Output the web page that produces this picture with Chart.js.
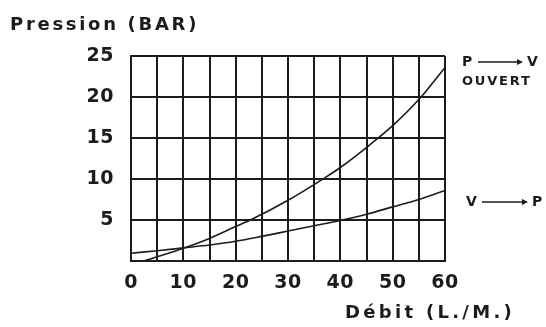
<!DOCTYPE html>
<html>
<head>
<meta charset="utf-8">
<script src="https://cdn.jsdelivr.net/npm/chart.js@4/dist/chart.umd.min.js"></script>
<style>
  html, body { margin: 0; padding: 0; background: #fff; }
  #wrap { width: 546px; height: 327px; }
</style>
</head>
<body>
<div id="wrap"><canvas id="chart"></canvas></div>
<script>
// Débit (L/min) vs pression (bar)
const debitPV = [2.5, 10, 15, 20, 23, 30, 36.8, 40, 45.7, 50, 55.3, 60];
const pressionPV = [0, 1.55, 2.75, 4.2, 5.05, 7.4, 10.05, 11.4, 14.2, 16.5, 19.9, 23.6];

const debitVP = [0, 5, 10, 15, 20, 25, 30, 35, 40, 45, 50, 55, 60];
const pressionVP = [0.95, 1.25, 1.6, 1.95, 2.4, 3.0, 3.65, 4.3, 4.95, 5.7, 6.6, 7.5, 8.6];

const xTicks = [0, 10, 20, 30, 40, 50, 60];
const yTicks = [5, 10, 15, 20, 25];

const INK = '#1c1c1c';
const FONT = "'DejaVu Sans', sans-serif";

const toPoints = (xs, ys) => xs.map((x, i) => ({ x: x, y: ys[i] }));

// extra text: titles and the flow-direction labels
const labelsPlugin = {
    id: 'labels',
    beforeDraw(chart) {
        // a little spacing for the tick digits too
        chart.ctx.letterSpacing = '0.5px';
    },
    afterDraw(chart) {
        const ctx = chart.ctx;
        ctx.save();
        ctx.fillStyle = INK;
        ctx.strokeStyle = INK;
        ctx.textBaseline = 'middle';

        const text = (str, x, y, size, spacing, align) => {
            ctx.font = `bold ${size}px ${FONT}`;
            ctx.letterSpacing = spacing + 'px';
            ctx.textAlign = align || 'left';
            ctx.fillText(str, x, y);
        };
        const arrow = (x1, x2, y) => {
            ctx.lineWidth = 1.5;
            ctx.beginPath();
            ctx.moveTo(x1, y);
            ctx.lineTo(x2 - 4, y);
            ctx.stroke();
            ctx.beginPath();
            ctx.moveTo(x2, y);
            ctx.lineTo(x2 - 6, y - 3);
            ctx.lineTo(x2 - 6, y + 3);
            ctx.closePath();
            ctx.fill();
        };

        text('Pression (BAR)', 10, 25, 18, 2.7);
        text('Débit (L./M.)', 345, 313, 18, 3.3);

        text('P', 462, 62, 14, 0);
        arrow(478, 523, 62);
        text('V', 527, 62, 14, 0);
        text('OUVERT', 462, 82, 13, 1.8);

        text('V', 466, 202, 14, 0);
        arrow(482, 528, 202);
        text('P', 532, 202, 14, 0);

        ctx.restore();
    }
};

new Chart(document.getElementById('chart'), {
    type: 'line',
    data: {
        datasets: [
            {
                label: 'P → V ouvert',
                data: toPoints(debitPV, pressionPV),
                borderColor: INK,
                borderWidth: 1.6,
                pointRadius: 0,
                cubicInterpolationMode: 'monotone'
            },
            {
                label: 'V → P',
                data: toPoints(debitVP, pressionVP),
                borderColor: INK,
                borderWidth: 1.6,
                pointRadius: 0,
                cubicInterpolationMode: 'monotone'
            }
        ]
    },
    options: {
        responsive: true,
        maintainAspectRatio: false,
        animation: false,
        layout: { padding: { left: 0, top: 56, right: 101, bottom: 0 } },
        plugins: { legend: { display: false }, tooltip: { enabled: false } },
        scales: {
            x: {
                type: 'linear',
                min: 0,
                max: 60,
                afterFit: (s) => { s.height = 66; },
                border: { color: INK, width: 2 },
                grid: { color: INK, lineWidth: 2, drawTicks: false },
                ticks: {
                    stepSize: 5,
                    autoSkip: false,
                    maxRotation: 0,
                    minRotation: 0,
                    padding: 11,
                    color: INK,
                    font: { family: FONT, size: 19, weight: 'bold' },
                    callback: (v) => xTicks.includes(v) ? v : ''
                }
            },
            y: {
                min: 0,
                max: 25,
                afterFit: (s) => { s.width = 131; },
                border: { color: INK, width: 2 },
                grid: { color: INK, lineWidth: 2, drawTicks: false },
                ticks: {
                    stepSize: 5,
                    autoSkip: false,
                    padding: 17,
                    color: INK,
                    font: { family: FONT, size: 19, weight: 'bold' },
                    callback: (v) => yTicks.includes(v) ? v : ''
                }
            }
        }
    },
    plugins: [labelsPlugin]
});
</script>
</body>
</html>
